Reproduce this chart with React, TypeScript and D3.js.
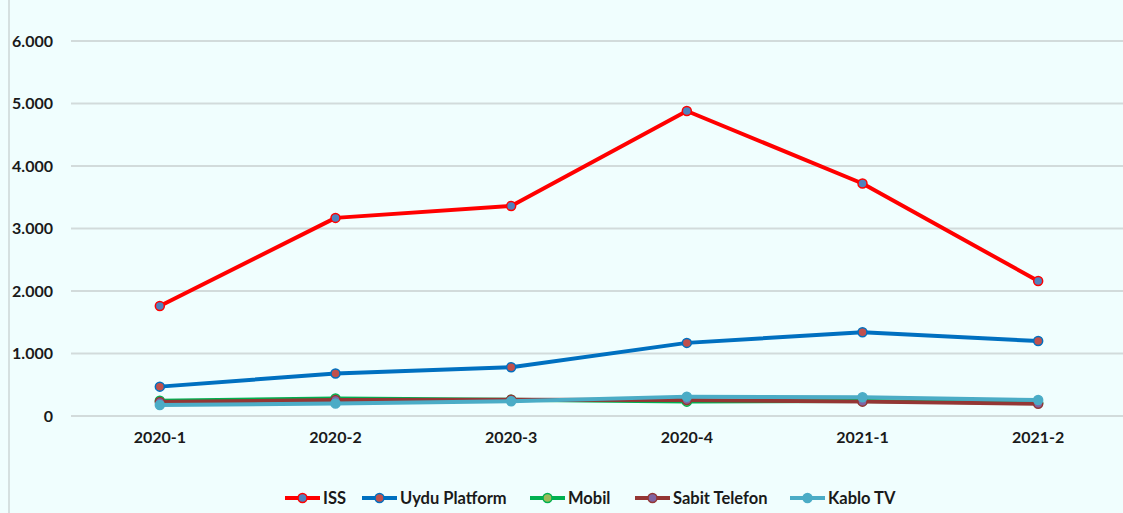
import React, { useEffect, useRef } from "react";
import * as d3 from "d3";

const periods = ["2020-1", "2020-2", "2020-3", "2020-4", "2021-1", "2021-2"];
const yTicks = [0, 1000, 2000, 3000, 4000, 5000, 6000];

const iss = [1760, 3170, 3360, 4880, 3720, 2160];
const uydu = [470, 680, 780, 1170, 1340, 1200];
const mobil = [245, 280, 260, 230, 240, 210];
const sabit = [225, 255, 260, 255, 230, 195];
const kablo = [175, 200, 235, 310, 300, 255];

const seriesNames = ["ISS", "Uydu Platform", "Mobil", "Sabit Telefon", "Kablo TV"];
const seriesValues = [iss, uydu, mobil, sabit, kablo];
const lineColors = ["#ff0000", "#0070c0", "#00b050", "#943634", "#4bacc6"];
const markerFills = ["#4f81bd", "#c0504d", "#9bbb59", "#8064a2", "#4bacc6"];

const App = () => {
  const ref = useRef<HTMLDivElement>(null);

  useEffect(() => {
    const width = 1123;
    const height = 513;
    const margin = { top: 41, right: -3, bottom: 97, left: 72 };
    const font = "Lato, 'Open Sans', sans-serif";

    d3.select(ref.current).select("svg").remove();

    const svg = d3
      .select(ref.current)
      .append("svg")
      .attr("width", width)
      .attr("height", height)
      .style("position", "absolute")
      .style("left", "0px")
      .style("top", "0px");

    svg
      .append("rect")
      .attr("width", width)
      .attr("height", height)
      .attr("fill", "#f0fefe");

    // left border of the chart area
    svg
      .append("line")
      .attr("x1", 9)
      .attr("x2", 9)
      .attr("y1", 0)
      .attr("y2", height)
      .attr("stroke", "#cdd6d6")
      .attr("stroke-width", 1.5);

    const x = d3
      .scaleBand()
      .domain(periods)
      .range([margin.left, width - margin.right]);

    const y = d3
      .scaleLinear()
      .domain([0, 6000])
      .range([height - margin.bottom, margin.top]);

    // gridlines
    svg
      .append("g")
      .selectAll("line")
      .data(yTicks)
      .enter()
      .append("line")
      .attr("x1", margin.left - 1)
      .attr("x2", width)
      .attr("y1", (d) => y(d))
      .attr("y2", (d) => y(d))
      .attr("stroke", "#d2dbdb")
      .attr("stroke-width", 2);

    // y labels
    svg
      .append("g")
      .selectAll("text")
      .data(yTicks)
      .enter()
      .append("text")
      .attr("x", 53)
      .attr("y", (d) => y(d))
      .attr("dy", "0.35em")
      .attr("text-anchor", "end")
      .style("font-family", font)
      .style("font-weight", "700")
      .style("font-size", "16px")
      .style("fill", "#1a1a1a")
      .text((d) => d3.format(",")(d).replace(/,/g, "."));

    // x labels
    svg
      .append("g")
      .selectAll("text")
      .data(periods)
      .enter()
      .append("text")
      .attr("x", (d) => x(d)! + x.bandwidth() / 2)
      .attr("y", 443)
      .attr("text-anchor", "middle")
      .style("font-family", font)
      .style("font-weight", "700")
      .style("font-size", "16px")
      .style("fill", "#1a1a1a")
      .text((d) => d);

    const line = d3
      .line<number>()
      .x((_, i) => x(periods[i])! + x.bandwidth() / 2)
      .y((d) => y(d));

    seriesValues.forEach((vals, s) => {
      const g = svg.append("g");
      g.append("path")
        .datum(vals)
        .attr("d", line)
        .attr("fill", "none")
        .attr("stroke", lineColors[s])
        .attr("stroke-width", 4)
        .attr("stroke-linejoin", "round");
      g.selectAll("circle")
        .data(vals)
        .enter()
        .append("circle")
        .attr("cx", (_, i) => x(periods[i])! + x.bandwidth() / 2)
        .attr("cy", (d) => y(d))
        .attr("r", 4.5)
        .attr("fill", markerFills[s])
        .attr("stroke", lineColors[s])
        .attr("stroke-width", 1.5);
    });

    // legend
    const legendX = [285, 362, 530, 635, 790];
    const legendY = 498;
    const legend = svg.append("g");
    seriesNames.forEach((name, s) => {
      const lg = legend.append("g").attr("transform", `translate(${legendX[s]},${legendY})`);
      lg.append("line")
        .attr("x1", 0)
        .attr("x2", 35)
        .attr("stroke", lineColors[s])
        .attr("stroke-width", 4);
      lg.append("circle")
        .attr("cx", 17.5)
        .attr("r", 4.5)
        .attr("fill", markerFills[s])
        .attr("stroke", lineColors[s])
        .attr("stroke-width", 1.5);
      lg.append("text")
        .attr("x", 38)
        .attr("dy", "0.35em")
        .style("font-family", font)
        .style("font-weight", "700")
        .style("font-size", "16.5px")
        .style("fill", "#1a1a1a")
        .text(name);
    });
  }, []);

  return <div ref={ref}></div>;
};

export default App;
